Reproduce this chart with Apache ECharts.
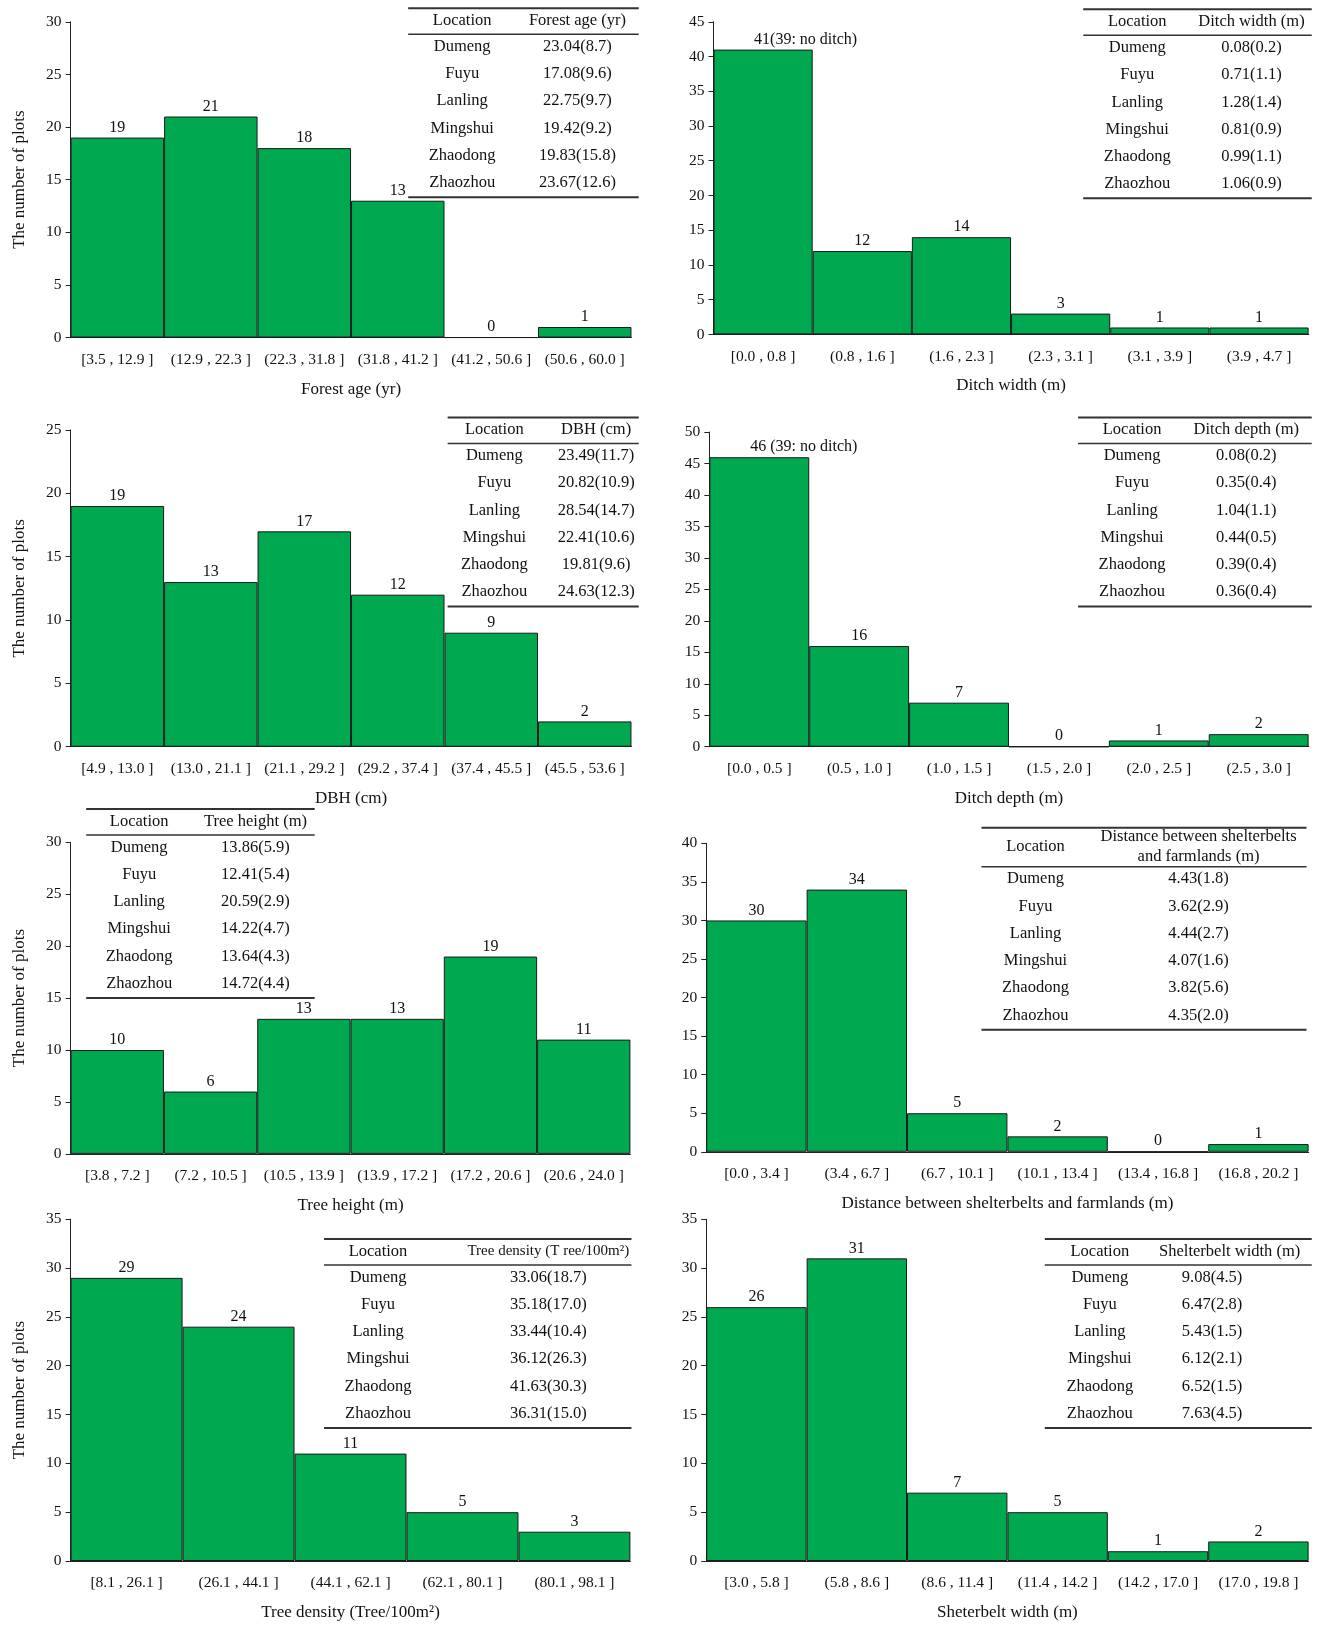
<!DOCTYPE html>
<html>
<head>
<meta charset="utf-8">
<script src="https://cdn.jsdelivr.net/npm/echarts@6/dist/echarts.min.js"></script>
<style>
html, body { margin: 0; padding: 0; background: #fff; }
#main { width: 1319px; height: 1629px; }
</style>
</head>
<body>
<div id="main"></div>
<script>
var locations = ['Dumeng', 'Fuyu', 'Lanling', 'Mingshui', 'Zhaodong', 'Zhaozhou'];

var ageBins = ['[3.5 , 12.9 ]', '(12.9 , 22.3 ]', '(22.3 , 31.8 ]', '(31.8 , 41.2 ]', '(41.2 , 50.6 ]', '(50.6 , 60.0 ]'];
var ageCounts = [19, 21, 18, 13, 0, 1];
var ageTable = ['23.04(8.7)', '17.08(9.6)', '22.75(9.7)', '19.42(9.2)', '19.83(15.8)', '23.67(12.6)'];

var ditchWidthBins = ['[0.0 , 0.8 ]', '(0.8 , 1.6 ]', '(1.6 , 2.3 ]', '(2.3 , 3.1 ]', '(3.1 , 3.9 ]', '(3.9 , 4.7 ]'];
var ditchWidthCounts = [41, 12, 14, 3, 1, 1];
var ditchWidthTable = ['0.08(0.2)', '0.71(1.1)', '1.28(1.4)', '0.81(0.9)', '0.99(1.1)', '1.06(0.9)'];

var dbhBins = ['[4.9 , 13.0 ]', '(13.0 , 21.1 ]', '(21.1 , 29.2 ]', '(29.2 , 37.4 ]', '(37.4 , 45.5 ]', '(45.5 , 53.6 ]'];
var dbhCounts = [19, 13, 17, 12, 9, 2];
var dbhTable = ['23.49(11.7)', '20.82(10.9)', '28.54(14.7)', '22.41(10.6)', '19.81(9.6)', '24.63(12.3)'];

var ditchDepthBins = ['[0.0 , 0.5 ]', '(0.5 , 1.0 ]', '(1.0 , 1.5 ]', '(1.5 , 2.0 ]', '(2.0 , 2.5 ]', '(2.5 , 3.0 ]'];
var ditchDepthCounts = [46, 16, 7, 0, 1, 2];
var ditchDepthTable = ['0.08(0.2)', '0.35(0.4)', '1.04(1.1)', '0.44(0.5)', '0.39(0.4)', '0.36(0.4)'];

var heightBins = ['[3.8 , 7.2 ]', '(7.2 , 10.5 ]', '(10.5 , 13.9 ]', '(13.9 , 17.2 ]', '(17.2 , 20.6 ]', '(20.6 , 24.0 ]'];
var heightCounts = [10, 6, 13, 13, 19, 11];
var heightTable = ['13.86(5.9)', '12.41(5.4)', '20.59(2.9)', '14.22(4.7)', '13.64(4.3)', '14.72(4.4)'];

var distBins = ['[0.0 , 3.4 ]', '(3.4 , 6.7 ]', '(6.7 , 10.1 ]', '(10.1 , 13.4 ]', '(13.4 , 16.8 ]', '(16.8 , 20.2 ]'];
var distCounts = [30, 34, 5, 2, 0, 1];
var distTable = ['4.43(1.8)', '3.62(2.9)', '4.44(2.7)', '4.07(1.6)', '3.82(5.6)', '4.35(2.0)'];

var densityBins = ['[8.1 , 26.1 ]', '(26.1 , 44.1 ]', '(44.1 , 62.1 ]', '(62.1 , 80.1 ]', '(80.1 , 98.1 ]'];
var densityCounts = [29, 24, 11, 5, 3];
var densityTable = ['33.06(18.7)', '35.18(17.0)', '33.44(10.4)', '36.12(26.3)', '41.63(30.3)', '36.31(15.0)'];

var beltBins = ['[3.0 , 5.8 ]', '(5.8 , 8.6 ]', '(8.6 , 11.4 ]', '(11.4 , 14.2 ]', '(14.2 , 17.0 ]', '(17.0 , 19.8 ]'];
var beltCounts = [26, 31, 7, 5, 1, 2];
var beltTable = ['9.08(4.5)', '6.47(2.8)', '5.43(1.5)', '6.12(2.1)', '6.52(1.5)', '7.63(4.5)'];

// layout measured on the shrunk picture, scaled up below
var K = 1319 / 1270;
function s(v) { return v * K; }

var FONT = 'Liberation Serif';
var INK = '#111';
var GREEN = '#00A94F';

var panels = [
    { bins: ageBins, counts: ageCounts, max: 30, xName: 'Forest age (yr)', yName: true,
      box: [68, 21, 608, 325],
      table: { rows: ageTable, head: 'Forest age (yr)', top: 8, x0: 393, x1: 615, c1: 445, c2: 556 } },
    { bins: ditchWidthBins, counts: ditchWidthCounts, max: 45, xName: 'Ditch width (m)', yName: false,
      box: [687, 21, 1260, 322], note: '41(39: no ditch)',
      table: { rows: ditchWidthTable, head: 'Ditch width (m)', top: 9, x0: 1043, x1: 1263, c1: 1095, c2: 1205 } },
    { bins: dbhBins, counts: dbhCounts, max: 25, xName: 'DBH (cm)', yName: true,
      box: [68, 414, 608, 719],
      table: { rows: dbhTable, head: 'DBH (cm)', top: 402, x0: 431, x1: 615, c1: 476, c2: 574 } },
    { bins: ditchDepthBins, counts: ditchDepthCounts, max: 50, xName: 'Ditch depth (m)', yName: false,
      box: [683, 416, 1260, 719], note: '46 (39: no ditch)',
      table: { rows: ditchDepthTable, head: 'Ditch depth (m)', top: 402, x0: 1038, x1: 1263, c1: 1090, c2: 1200 } },
    { bins: heightBins, counts: heightCounts, max: 30, xName: 'Tree height (m)', yName: true,
      box: [68, 811, 607, 1111],
      table: { rows: heightTable, head: 'Tree height (m)', top: 779, x0: 83, x1: 303, c1: 134, c2: 246 } },
    { bins: distBins, counts: distCounts, max: 40, xName: 'Distance between shelterbelts and farmlands (m)', yName: false,
      box: [680, 812, 1260, 1109],
      table: { rows: distTable, head: 'Distance between shelterbelts\nand farmlands (m)', tall: true, top: 797, x0: 945, x1: 1258, c1: 997, c2: 1154 } },
    { bins: densityBins, counts: densityCounts, max: 35, xName: 'Tree density (Tree/100m\u00b2)', yName: true,
      box: [68, 1174, 607, 1503],
      table: { rows: densityTable, head: 'Tree density (T ree/100m\u00b2)', headSize: 15, top: 1193, x0: 312, x1: 608, c1: 364, c2: 528 } },
    { bins: beltBins, counts: beltCounts, max: 35, xName: 'Sheterbelt width (m)', yName: false,
      box: [680, 1174, 1260, 1503],
      table: { rows: beltTable, head: 'Shelterbelt width (m)', headX: 1184, top: 1193, x0: 1006, x1: 1263, c1: 1059, c2: 1167 } }
];

var grids = [], xAxes = [], yAxes = [], series = [], graphics = [];

function hline(x0, x1, y, w) {
    return { type: 'line', silent: true,
        shape: { x1: s(x0), y1: s(y), x2: s(x1), y2: s(y) },
        style: { stroke: '#333', lineWidth: w } };
}
function cell(x, y, str, size) {
    return { type: 'text', silent: true, x: s(x), y: s(y),
        style: { text: str, fill: INK, font: (size || 16.5) + 'px "' + FONT + '"', align: 'center', verticalAlign: 'middle', lineHeight: 20 } };
}

panels.forEach(function (p, i) {
    var b = p.box;
    grids.push({ left: s(b[0]), top: s(b[1]), width: s(b[2] - b[0]), height: s(b[3] - b[1]) });
    xAxes.push({
        type: 'category', gridIndex: i, data: p.bins,
        name: p.xName, nameLocation: 'middle', nameGap: 43,
        nameTextStyle: { fontFamily: FONT, fontSize: 17, color: INK },
        axisLine: { lineStyle: { color: '#222', width: 1.2 } },
        axisTick: { show: false },
        axisLabel: { interval: 0, margin: 14, fontFamily: FONT, fontSize: 15.5, color: INK }
    });
    yAxes.push({
        type: 'value', gridIndex: i, min: 0, max: p.max, interval: 5,
        name: p.yName ? 'The number of plots' : '', nameLocation: 'middle', nameGap: 43,
        nameTextStyle: { fontFamily: FONT, fontSize: 17, color: INK },
        axisLine: { show: true, lineStyle: { color: '#222', width: 1 } },
        axisTick: { show: true, length: 5, lineStyle: { color: '#222' } },
        axisLabel: { margin: 9, fontFamily: FONT, fontSize: 15.5, color: INK },
        splitLine: { show: false }
    });
    var data = p.counts.map(function (v, j) {
        if (j === 0 && p.note) {
            return { value: v, label: { formatter: p.note, align: 'left', offset: [-9, 0] } };
        }
        return v;
    });
    series.push({
        type: 'bar', xAxisIndex: i, yAxisIndex: i, data: data,
        barCategoryGap: '0%',
        itemStyle: { color: GREEN, borderColor: '#1a1a1a', borderWidth: 1 },
        label: { show: true, position: 'top', distance: 2, fontFamily: FONT, fontSize: 16, color: INK },
        silent: true
    });

    // inset table
    var t = p.table;
    var extra = t.tall ? 12.5 : 0;
    graphics.push(hline(t.x0, t.x1, t.top, 2));
    graphics.push(cell(t.c1, t.top + 12 + extra / 2, 'Location'));
    graphics.push(cell(t.headX || t.c2, t.top + 12 + extra / 2, t.head, t.headSize));
    graphics.push(hline(t.x0, t.x1, t.top + 25 + extra, 1.5));
    for (var r = 0; r < locations.length; r++) {
        var y = t.top + 37 + extra + r * 26.2;
        graphics.push(cell(t.c1, y, locations[r]));
        graphics.push(cell(t.c2, y, t.rows[r]));
    }
    graphics.push(hline(t.x0, t.x1, t.top + 182 + extra, 2));
});

var chart = echarts.init(document.getElementById('main'));
chart.setOption({
    animation: false,
    backgroundColor: '#fff',
    grid: grids,
    xAxis: xAxes,
    yAxis: yAxes,
    series: series,
    graphic: graphics
});
</script>
</body>
</html>
